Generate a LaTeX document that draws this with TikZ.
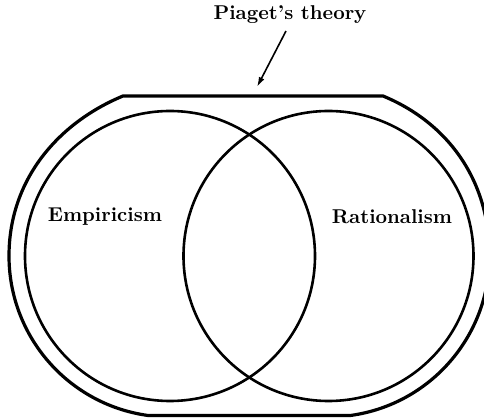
\documentclass[tikz,border=0pt]{standalone}
\usepackage{tikz}
\usetikzlibrary{arrows.meta,calc}

\begin{document}
\begin{tikzpicture}[
  x=0.5pt,y=0.5pt,
  font=\bfseries,
  ring/.style={line width=1.3pt},
  hull/.style={line width=1.6pt,line join=round},
  arr/.style={-{Latex[length=5pt,width=3pt]},line width=0.8pt}
]
\useasboundingbox (0,0) rectangle (484,418);
\coordinate (l) at (170,162);
\coordinate (r) at (328.5,162);
% the two schools
\draw[ring] (l) circle[radius=145];
\draw[ring] (r) circle[radius=145];
% outline round both
\draw[hull] (123,322) -- (383,322) .. controls (446,296) and (489.5,240) .. (489.5,162)
  arc[start angle=0,end angle=-82,radius=161] -- ($(l)+(262:161)$)
  arc[start angle=262,end angle=180,radius=161] .. controls (9,240) and (60,296) .. (123,322) -- cycle;
\node (emp) at (105,201) {Empiricism};
\node (rat) at (392,201) {Rationalism};
\node (pia) at (290,403) {Piaget's theory};
\coordinate (tip) at (257,331);
\draw[arr] ([xshift=-2pt]pia.south) -- (tip);
\end{tikzpicture}
\end{document}
